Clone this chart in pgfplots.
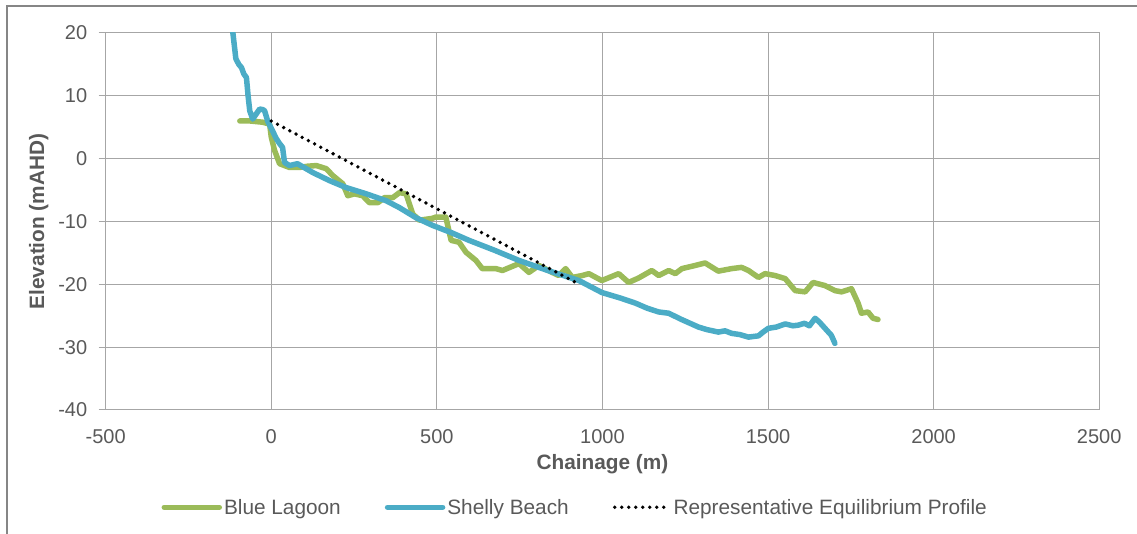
\documentclass[border=0pt]{standalone}
\usepackage{fontspec}
\setmainfont{Liberation Sans}
\usepackage{pgfplots}
\pgfplotsset{compat=1.18}
\definecolor{lagoon}{HTML}{9BBB59}
\definecolor{shelly}{HTML}{4BACC6}
\definecolor{txt}{HTML}{595959}
\definecolor{gridc}{HTML}{A6A6A6}
\definecolor{axc}{HTML}{868686}
\begin{document}
\begin{tikzpicture}[x=1pt,y=1pt]
\useasboundingbox (0,0) rectangle (1137,534);
\draw[line width=1.5pt, color=axc] (7,-5) -- (7,528) -- (1145,528);
\begin{axis}[
  at={(105.7pt,124pt)}, anchor=south west, scale only axis,
  width=993.5pt, height=377pt,
  xmin=-500, xmax=2500, ymin=-40, ymax=20,
  xtick={-500,0,...,2500}, ytick={-40,-30,...,20},
  grid=major, major grid style={gridc, line width=1pt},
  axis line style={gridc, line width=1pt},
  tick pos=left, tick align=outside, major tick length=7pt,
  xtick style={draw=none}, ytick style={gridc, line width=1pt},
  /pgf/number format/assume math mode=true,
  /pgf/number format/1000 sep={},
  ticklabel style={font=\fontsize{20}{24}\selectfont, text=txt},
  yticklabel style={xshift=-8pt},
  xticklabel style={yshift=-9pt},
  xlabel={\textbf{Chainage (m)}}, ylabel={\textbf{Elevation (mAHD)}},
  label style={font=\fontsize{20.8}{24}\selectfont, text=txt},
  xlabel style={at={(axis description cs:0.5,-0.143)}, anchor=center},
  ylabel style={at={(axis description cs:-0.0675,0.5)}, anchor=center},
  clip=true,
  legend columns=3,
  legend style={draw=none, fill=none, at={(axis description cs:0.056,-0.258)}, anchor=west,
    font=\fontsize{20.8}{24}\selectfont, text=txt, inner xsep=0pt, inner ysep=0pt,
    /tikz/every even column/.append style={column sep=42pt}},
  legend image code/.code={\draw[#1] (0pt,0pt) -- (55pt,0pt);},
]
\addplot[lagoon, line width=5.5pt, line join=round, line cap=round] coordinates {
(-95,6.0)(-65,6.0)(-26,5.8)(-5,5.5)(0,3.4)(10,1.3)(25,-0.8)(55,-1.4)(85,-1.4)(110,-1.2)
(136,-1.1)(166,-1.6)(186,-2.7)(216,-4.0)(231,-5.9)(251,-5.6)(276,-5.9)(296,-7.0)(322,-7.0)
(342,-6.2)(367,-6.2)(387,-5.4)(407,-5.6)(427,-8.8)(447,-9.8)(486,-9.5)(497,-9.3)(527,-9.3)
(543,-13.0)(567,-13.3)(588,-14.9)(618,-16.2)(637,-17.5)(678,-17.5)(698,-17.8)(748,-16.7)
(778,-18.1)(808,-17.0)(848,-18.1)(868,-18.6)(889,-17.5)(909,-18.9)(939,-18.6)(959,-18.3)
(998,-19.4)(1049,-18.3)(1079,-19.7)(1109,-19.0)(1149,-17.8)(1170,-18.6)(1200,-17.8)
(1220,-18.3)(1240,-17.5)(1280,-17.0)(1310,-16.6)(1350,-17.9)(1390,-17.5)(1420,-17.3)
(1441,-17.8)(1471,-18.9)(1491,-18.3)(1521,-18.6)(1552,-19.1)(1582,-21.0)(1612,-21.2)
(1636,-19.7)(1672,-20.2)(1702,-21.0)(1722,-21.2)(1752,-20.7)(1772,-23.0)(1782,-24.6)
(1802,-24.4)(1817,-25.4)(1832,-25.6)
};
\addlegendentry{Blue Lagoon}
\addplot[shelly, line width=5.5pt, line join=round, line cap=round] coordinates {
(-117,20.5)(-107,15.9)(-98,15.0)(-90,14.5)(-83,13.5)(-75,12.9)(-70,10)(-65,7.6)(-56,6.3)
(-47,7.0)(-35,7.9)(-25,7.8)(-20,7.6)(-11,6.0)(4,4.4)(15,3.2)(25,2.4)(34,1.8)(40,-0.6)
(55,-1.1)(79,-0.8)(125,-2.2)(176,-3.5)(226,-4.6)(287,-5.6)(347,-6.7)(387,-7.8)(437,-9.4)
(486,-10.6)(545,-11.8)(597,-13.0)(675,-14.6)(748,-16.2)(835,-17.8)(929,-19.4)(998,-21.3)
(1055,-22.2)(1100,-23.0)(1135,-23.8)(1170,-24.4)(1200,-24.6)(1239,-25.6)(1290,-26.8)
(1315,-27.2)(1350,-27.6)(1370,-27.4)(1390,-27.8)(1415,-28.0)(1441,-28.4)(1471,-28.2)
(1485,-27.6)(1501,-27.0)(1525,-26.8)(1552,-26.3)(1575,-26.6)(1591,-26.5)(1610,-26.2)
(1625,-26.6)(1642,-25.4)(1655,-26.0)(1672,-27.0)(1691,-28.1)(1702,-29.4)
};
\addlegendentry{Shelly Beach}
\addplot[black, line width=3.8pt, line cap=round, dash pattern=on 0pt off 7pt] coordinates {
(0,6)(930,-20)
};
\addlegendentry{Representative Equilibrium Profile}
\end{axis}
\end{tikzpicture}
\end{document}
